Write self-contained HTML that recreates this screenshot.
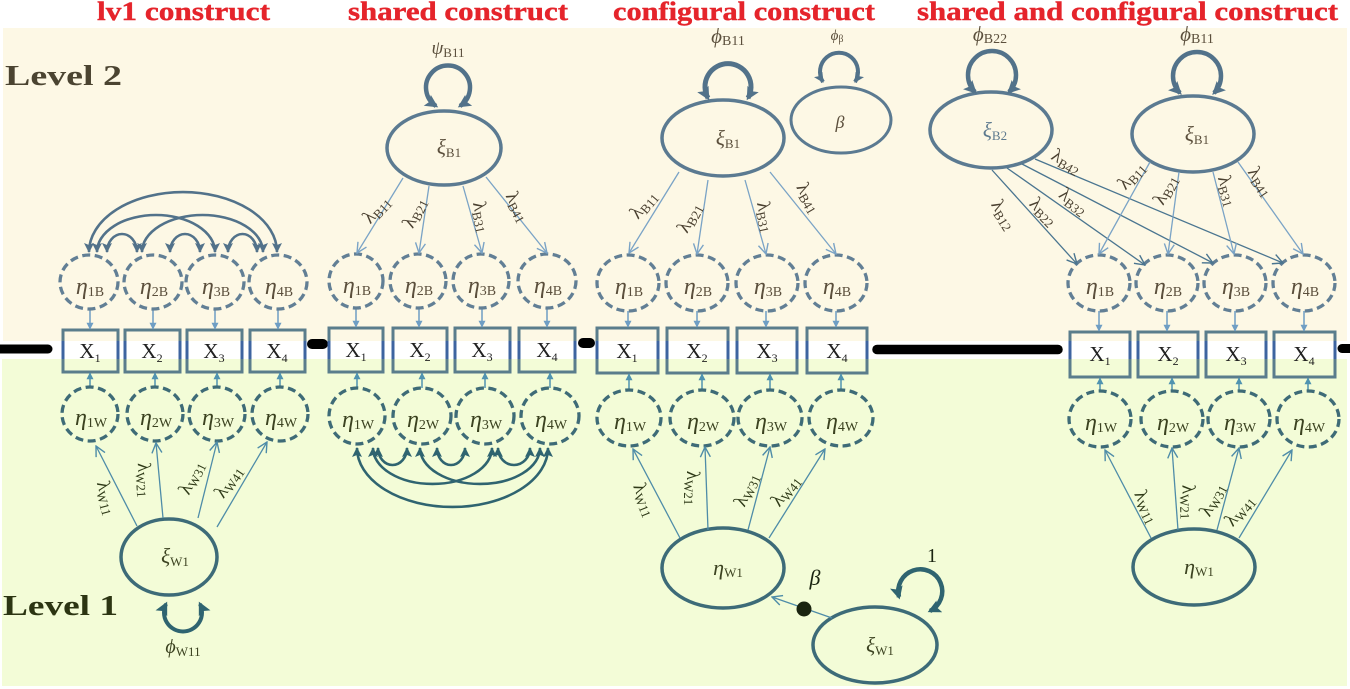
<!DOCTYPE html>
<html><head><meta charset="utf-8"><style>
html,body{margin:0;padding:0;background:#fff;}
svg{display:block;}
text{font-family:"Liberation Serif","DejaVu Serif",serif;}
</style></head><body>
<svg width="1350" height="689" viewBox="0 0 1350 689" xmlns="http://www.w3.org/2000/svg">
<defs>
<marker id="fB" viewBox="0 0 10 10" refX="9" refY="5" markerWidth="10" markerHeight="10" markerUnits="userSpaceOnUse" orient="auto-start-reverse"><path d="M0,0 L10,5 L0,10 L2,5 z" fill="#52728a"/></marker>
<marker id="fW" viewBox="0 0 10 10" refX="9" refY="5" markerWidth="10" markerHeight="10" markerUnits="userSpaceOnUse" orient="auto-start-reverse"><path d="M0,0 L10,5 L0,10 L2,5 z" fill="#2f6470"/></marker>
<marker id="lB" viewBox="0 0 10 10" refX="8" refY="5" markerWidth="13" markerHeight="13" markerUnits="userSpaceOnUse" orient="auto-start-reverse"><path d="M0,0 L10,5 L0,10 L2,5 z" fill="#52728a"/></marker>
<marker id="lW" viewBox="0 0 10 10" refX="8" refY="5" markerWidth="13" markerHeight="13" markerUnits="userSpaceOnUse" orient="auto-start-reverse"><path d="M0,0 L10,5 L0,10 L2,5 z" fill="#2f6470"/></marker>
<marker id="sB" viewBox="0 0 10 10" refX="9" refY="5" markerWidth="7" markerHeight="7" markerUnits="userSpaceOnUse" orient="auto"><path d="M0,0 L10,5 L0,10 z" fill="#6f9ec4"/></marker>
<marker id="sW" viewBox="0 0 10 10" refX="9" refY="5" markerWidth="7" markerHeight="7" markerUnits="userSpaceOnUse" orient="auto"><path d="M0,0 L10,5 L0,10 z" fill="#4f93b0"/></marker>
<marker id="oB" viewBox="0 0 12 12" refX="11" refY="6" markerWidth="12" markerHeight="12" markerUnits="userSpaceOnUse" orient="auto"><path d="M1,1 L11,6 L1,11" fill="none" stroke="#7aa3c6" stroke-width="1.4"/></marker>
<marker id="oW" viewBox="0 0 12 12" refX="11" refY="6" markerWidth="12" markerHeight="12" markerUnits="userSpaceOnUse" orient="auto"><path d="M1,1 L11,6 L1,11" fill="none" stroke="#4e8ca8" stroke-width="1.4"/></marker>
<marker id="oD" viewBox="0 0 12 12" refX="11" refY="6" markerWidth="12" markerHeight="12" markerUnits="userSpaceOnUse" orient="auto"><path d="M1,1 L11,6 L1,11" fill="none" stroke="#4a7590" stroke-width="1.4"/></marker>
</defs>

<!-- backgrounds -->
<rect x="3" y="28" width="1344" height="313" fill="#fdf8e5"/>
<rect x="2" y="359" width="1345" height="327" fill="#f3fcd7"/>

<!-- titles -->
<g font-weight="bold" fill="#e5242b" font-size="26" stroke="#e5242b" stroke-width="0.4">
<text x="97" y="20" textLength="173" lengthAdjust="spacingAndGlyphs">lv1 construct</text>
<text x="348" y="20" textLength="220" lengthAdjust="spacingAndGlyphs">shared construct</text>
<text x="613" y="20" textLength="262" lengthAdjust="spacingAndGlyphs">configural construct</text>
<text x="917" y="20" textLength="421" lengthAdjust="spacingAndGlyphs">shared and configural construct</text>
</g>
<text x="5" y="85" font-size="28" font-weight="bold" fill="#4b4431" textLength="117" lengthAdjust="spacingAndGlyphs">Level 2</text>
<text x="3" y="615" font-size="28" font-weight="bold" fill="#2c3512" textLength="115" lengthAdjust="spacingAndGlyphs">Level 1</text>

<!-- black separators -->
<g stroke="#000" stroke-linecap="round">
<line x1="-6" y1="349" x2="48" y2="349" stroke-width="9"/>
<line x1="312" y1="344" x2="323" y2="344" stroke-width="10"/>
<line x1="583" y1="343" x2="590" y2="343" stroke-width="10"/>
<line x1="877" y1="349.5" x2="1058" y2="349.5" stroke-width="9.5"/>
<line x1="1342" y1="348.5" x2="1362" y2="348.5" stroke-width="9"/>
</g>

<!-- boxes -->
<g fill="none" stroke="#5a7d8c" stroke-width="3">
<rect x="63" y="330" width="55" height="42"/><rect x="125" y="330" width="55" height="42"/><rect x="187" y="330" width="55" height="42"/><rect x="250" y="330" width="55" height="42"/>
<rect x="329" y="328" width="54" height="44"/><rect x="393" y="328" width="54" height="44"/><rect x="455" y="328" width="55" height="44"/><rect x="519" y="328" width="56" height="44"/>
<rect x="597" y="328" width="61" height="45"/><rect x="667" y="328" width="61" height="45"/><rect x="737" y="328" width="60" height="45"/><rect x="807" y="328" width="60" height="45"/>
<rect x="1070" y="332" width="60" height="45"/><rect x="1138" y="332" width="60" height="45"/><rect x="1206" y="332" width="60" height="45"/><rect x="1274" y="332" width="61" height="45"/>
</g>
<path stroke="#3e64a0" stroke-width="3" fill="none" d="M63,341V359M118,341V359M125,341V359M180,341V359M187,341V359M242,341V359M250,341V359M305,341V359M329,341V359M383,341V359M393,341V359M447,341V359M455,341V359M510,341V359M519,341V359M575,341V359M597,341V359M658,341V359M667,341V359M728,341V359M737,341V359M797,341V359M807,341V359M867,341V359M1070,341V359M1130,341V359M1138,341V359M1198,341V359M1206,341V359M1266,341V359M1274,341V359M1335,341V359"/>

<!-- X labels -->
<g font-size="21" fill="#222" text-anchor="middle">
<text x="90" y="358">X<tspan font-size="12" dy="4">1</tspan></text>
<text x="152" y="358">X<tspan font-size="12" dy="4">2</tspan></text>
<text x="214" y="358">X<tspan font-size="12" dy="4">3</tspan></text>
<text x="277" y="358">X<tspan font-size="12" dy="4">4</tspan></text>
<text x="356" y="357">X<tspan font-size="12" dy="4">1</tspan></text>
<text x="420" y="357">X<tspan font-size="12" dy="4">2</tspan></text>
<text x="482" y="357">X<tspan font-size="12" dy="4">3</tspan></text>
<text x="547" y="357">X<tspan font-size="12" dy="4">4</tspan></text>
<text x="627" y="358">X<tspan font-size="12" dy="4">1</tspan></text>
<text x="697" y="358">X<tspan font-size="12" dy="4">2</tspan></text>
<text x="767" y="358">X<tspan font-size="12" dy="4">3</tspan></text>
<text x="837" y="358">X<tspan font-size="12" dy="4">4</tspan></text>
<text x="1100" y="361">X<tspan font-size="12" dy="4">1</tspan></text>
<text x="1168" y="361">X<tspan font-size="12" dy="4">2</tspan></text>
<text x="1236" y="361">X<tspan font-size="12" dy="4">3</tspan></text>
<text x="1304" y="361">X<tspan font-size="12" dy="4">4</tspan></text>
</g>

<!-- short arrows eta -> X -->
<g stroke="#6f9ec4" stroke-width="1.5" marker-end="url(#sB)">
<line x1="90" y1="309" x2="90" y2="329"/><line x1="153" y1="309" x2="153" y2="329"/><line x1="215" y1="309" x2="215" y2="329"/><line x1="278" y1="309" x2="278" y2="329"/>
<line x1="356" y1="308" x2="356" y2="327"/><line x1="419" y1="308" x2="419" y2="327"/><line x1="482" y1="308" x2="482" y2="327"/><line x1="547" y1="308" x2="547" y2="327"/>
<line x1="628" y1="311" x2="628" y2="327"/><line x1="697" y1="311" x2="697" y2="327"/><line x1="766" y1="311" x2="766" y2="327"/><line x1="836" y1="311" x2="836" y2="327"/>
<line x1="1099" y1="311" x2="1099" y2="331"/><line x1="1167" y1="311" x2="1167" y2="331"/><line x1="1235" y1="311" x2="1235" y2="331"/><line x1="1304" y1="311" x2="1304" y2="331"/>
</g>
<g stroke="#4f93b0" stroke-width="1.5" marker-end="url(#sW)">
<line x1="90" y1="388" x2="90" y2="373"/><line x1="155" y1="388" x2="155" y2="373"/><line x1="217" y1="388" x2="217" y2="373"/><line x1="280" y1="388" x2="280" y2="373"/>
<line x1="357" y1="388" x2="357" y2="373"/><line x1="422" y1="388" x2="422" y2="373"/><line x1="485" y1="388" x2="485" y2="373"/><line x1="550" y1="388" x2="550" y2="373"/>
<line x1="629" y1="390" x2="629" y2="374"/><line x1="702" y1="390" x2="702" y2="374"/><line x1="770" y1="390" x2="770" y2="374"/><line x1="841" y1="390" x2="841" y2="374"/>
<line x1="1100" y1="391" x2="1100" y2="378"/><line x1="1172" y1="391" x2="1172" y2="378"/><line x1="1239" y1="391" x2="1239" y2="378"/><line x1="1308" y1="391" x2="1308" y2="378"/>
</g>

<!-- dashed eta_B circles -->
<g fill="none" stroke="#627f95" stroke-width="3.3" stroke-dasharray="8 4.5">
<ellipse cx="89" cy="282" rx="29" ry="27"/><ellipse cx="153" cy="282" rx="29" ry="27"/><ellipse cx="215" cy="282" rx="29" ry="27"/><ellipse cx="278" cy="282" rx="29" ry="27"/>
<ellipse cx="356" cy="281" rx="27" ry="27"/><ellipse cx="418" cy="281" rx="28" ry="27"/><ellipse cx="481" cy="281" rx="28" ry="27"/><ellipse cx="547" cy="281" rx="29" ry="27"/>
<ellipse cx="628" cy="283" rx="31" ry="28"/><ellipse cx="697" cy="283" rx="31" ry="28"/><ellipse cx="767" cy="283" rx="31" ry="28"/><ellipse cx="836" cy="283" rx="31" ry="28"/>
<ellipse cx="1099" cy="283" rx="31" ry="28"/><ellipse cx="1167" cy="283" rx="31" ry="28"/><ellipse cx="1235" cy="283" rx="31" ry="28"/><ellipse cx="1304" cy="283" rx="31" ry="28"/>
</g>
<!-- dashed eta_W circles -->
<g fill="none" stroke="#3e6b77" stroke-width="3.3" stroke-dasharray="8 4.5">
<ellipse cx="90" cy="414" rx="28" ry="27"/><ellipse cx="155" cy="414" rx="28" ry="27"/><ellipse cx="217" cy="414" rx="28" ry="27"/><ellipse cx="280" cy="414" rx="28" ry="27"/>
<ellipse cx="357" cy="416" rx="28" ry="28"/><ellipse cx="422" cy="416" rx="29" ry="28"/><ellipse cx="485" cy="416" rx="29" ry="28"/><ellipse cx="550" cy="416" rx="29" ry="28"/>
<ellipse cx="629" cy="418" rx="32" ry="28"/><ellipse cx="702" cy="418" rx="32" ry="28"/><ellipse cx="770" cy="418" rx="32" ry="28"/><ellipse cx="841" cy="418" rx="32" ry="28"/>
<ellipse cx="1100" cy="419" rx="31" ry="28"/><ellipse cx="1172" cy="419" rx="31" ry="28"/><ellipse cx="1239" cy="419" rx="31" ry="28"/><ellipse cx="1308" cy="419" rx="31" ry="28"/>
</g>

<!-- eta_B labels -->
<g text-anchor="middle" fill="#5b4f3c">
<text x="90" y="294"><tspan font-style="italic" font-size="24">η</tspan><tspan font-size="14" dy="2">1B</tspan></text>
<text x="154" y="294"><tspan font-style="italic" font-size="24">η</tspan><tspan font-size="14" dy="2">2B</tspan></text>
<text x="216" y="294"><tspan font-style="italic" font-size="24">η</tspan><tspan font-size="14" dy="2">3B</tspan></text>
<text x="279" y="294"><tspan font-style="italic" font-size="24">η</tspan><tspan font-size="14" dy="2">4B</tspan></text>
<text x="357" y="293"><tspan font-style="italic" font-size="24">η</tspan><tspan font-size="14" dy="2">1B</tspan></text>
<text x="419" y="293"><tspan font-style="italic" font-size="24">η</tspan><tspan font-size="14" dy="2">2B</tspan></text>
<text x="482" y="293"><tspan font-style="italic" font-size="24">η</tspan><tspan font-size="14" dy="2">3B</tspan></text>
<text x="548" y="293"><tspan font-style="italic" font-size="24">η</tspan><tspan font-size="14" dy="2">4B</tspan></text>
<text x="629" y="294"><tspan font-style="italic" font-size="24">η</tspan><tspan font-size="14" dy="2">1B</tspan></text>
<text x="698" y="294"><tspan font-style="italic" font-size="24">η</tspan><tspan font-size="14" dy="2">2B</tspan></text>
<text x="768" y="294"><tspan font-style="italic" font-size="24">η</tspan><tspan font-size="14" dy="2">3B</tspan></text>
<text x="837" y="294"><tspan font-style="italic" font-size="24">η</tspan><tspan font-size="14" dy="2">4B</tspan></text>
<text x="1100" y="294"><tspan font-style="italic" font-size="24">η</tspan><tspan font-size="14" dy="2">1B</tspan></text>
<text x="1168" y="294"><tspan font-style="italic" font-size="24">η</tspan><tspan font-size="14" dy="2">2B</tspan></text>
<text x="1236" y="294"><tspan font-style="italic" font-size="24">η</tspan><tspan font-size="14" dy="2">3B</tspan></text>
<text x="1305" y="294"><tspan font-style="italic" font-size="24">η</tspan><tspan font-size="14" dy="2">4B</tspan></text>
</g>
<!-- eta_W labels -->
<g text-anchor="middle" fill="#3b4220">
<text x="91" y="425"><tspan font-style="italic" font-size="24">η</tspan><tspan font-size="14" dy="2">1W</tspan></text>
<text x="156" y="425"><tspan font-style="italic" font-size="24">η</tspan><tspan font-size="14" dy="2">2W</tspan></text>
<text x="218" y="425"><tspan font-style="italic" font-size="24">η</tspan><tspan font-size="14" dy="2">3W</tspan></text>
<text x="281" y="425"><tspan font-style="italic" font-size="24">η</tspan><tspan font-size="14" dy="2">4W</tspan></text>
<text x="358" y="427"><tspan font-style="italic" font-size="24">η</tspan><tspan font-size="14" dy="2">1W</tspan></text>
<text x="423" y="427"><tspan font-style="italic" font-size="24">η</tspan><tspan font-size="14" dy="2">2W</tspan></text>
<text x="486" y="427"><tspan font-style="italic" font-size="24">η</tspan><tspan font-size="14" dy="2">3W</tspan></text>
<text x="551" y="427"><tspan font-style="italic" font-size="24">η</tspan><tspan font-size="14" dy="2">4W</tspan></text>
<text x="630" y="429"><tspan font-style="italic" font-size="24">η</tspan><tspan font-size="14" dy="2">1W</tspan></text>
<text x="703" y="429"><tspan font-style="italic" font-size="24">η</tspan><tspan font-size="14" dy="2">2W</tspan></text>
<text x="771" y="429"><tspan font-style="italic" font-size="24">η</tspan><tspan font-size="14" dy="2">3W</tspan></text>
<text x="842" y="429"><tspan font-style="italic" font-size="24">η</tspan><tspan font-size="14" dy="2">4W</tspan></text>
<text x="1101" y="430"><tspan font-style="italic" font-size="24">η</tspan><tspan font-size="14" dy="2">1W</tspan></text>
<text x="1173" y="430"><tspan font-style="italic" font-size="24">η</tspan><tspan font-size="14" dy="2">2W</tspan></text>
<text x="1240" y="430"><tspan font-style="italic" font-size="24">η</tspan><tspan font-size="14" dy="2">3W</tspan></text>
<text x="1309" y="430"><tspan font-style="italic" font-size="24">η</tspan><tspan font-size="14" dy="2">4W</tspan></text>
</g>

<!-- ===== Section 1: lv1 construct ===== -->
<g fill="none" stroke="#52728a" stroke-width="2.6" marker-start="url(#fB)" marker-end="url(#fB)">
<path d="M89,252 A94,60 0 0 1 277,252"/>
<path d="M97,252 A59,37 0 0 1 215,252"/>
<path d="M142,252 A60.5,37 0 0 1 263,252"/>
<path d="M107,252 A15,18 0 0 1 137,252"/>
<path d="M170,252 A15,18 0 0 1 200,252"/>
<path d="M228,252 A14.5,18 0 0 1 257,252"/>
</g>
<ellipse cx="169" cy="557" rx="48" ry="38" fill="none" stroke="#3d6b78" stroke-width="3.5"/>
<text x="175" y="563" text-anchor="middle" fill="#3b4220"><tspan font-style="italic" font-size="21">ξ</tspan><tspan font-size="13" dy="3">W1</tspan></text>
<g stroke="#4e8ca8" stroke-width="1.3" marker-end="url(#oW)">
<line x1="137" y1="526" x2="96" y2="446"/>
<line x1="163" y1="518" x2="156" y2="443"/>
<line x1="198" y1="518" x2="217" y2="442"/>
<line x1="217" y1="527" x2="267" y2="442"/>
</g>
<path d="M166,604 A19,19 0 1 0 200,604" fill="none" stroke="#2f6470" stroke-width="4" marker-start="url(#lW)" marker-end="url(#lW)"/>
<text x="183" y="653" text-anchor="middle" fill="#3b4220"><tspan font-style="italic" font-size="20">ϕ</tspan><tspan font-size="13" dy="3">W11</tspan></text>
<g fill="#2f3a18" text-anchor="middle">
<text transform="translate(106,498) rotate(75)" y="5"><tspan font-size="19">λ</tspan><tspan font-size="13" dy="3">W11</tspan></text>
<text transform="translate(144,480) rotate(86)" y="5"><tspan font-size="19">λ</tspan><tspan font-size="13" dy="3">W21</tspan></text>
<text transform="translate(192,478) rotate(-64)" y="5"><tspan font-size="19">λ</tspan><tspan font-size="13" dy="3">W31</tspan></text>
<text transform="translate(229,482) rotate(-56)" y="5"><tspan font-size="19">λ</tspan><tspan font-size="13" dy="3">W41</tspan></text>
</g>

<!-- ===== Section 2: shared construct ===== -->
<ellipse cx="444" cy="148" rx="57" ry="37" fill="none" stroke="#5b7a91" stroke-width="3.5"/>
<text x="449" y="154" text-anchor="middle" fill="#5b4f3c"><tspan font-style="italic" font-size="21">ξ</tspan><tspan font-size="13" dy="3">B1</tspan></text>
<path d="M436,106 A22,22 0 1 1 460,106" fill="none" stroke="#52728a" stroke-width="4.5" marker-start="url(#lB)" marker-end="url(#lB)"/>
<text x="448" y="54" text-anchor="middle" fill="#5b4f3c"><tspan font-style="italic" font-size="19">ψ</tspan><tspan font-size="13" dy="3">B11</tspan></text>
<g stroke="#7aa3c6" stroke-width="1.3" marker-end="url(#oB)">
<line x1="403" y1="178" x2="357" y2="253"/>
<line x1="429" y1="186" x2="419" y2="253"/>
<line x1="463" y1="186" x2="482" y2="253"/>
<line x1="486" y1="177" x2="547" y2="253"/>
</g>
<g fill="#4a4030" text-anchor="middle">
<text transform="translate(377,210) rotate(-47)" y="5"><tspan font-size="19">λ</tspan><tspan font-size="13" dy="3">B11</tspan></text>
<text transform="translate(415,213) rotate(-64)" y="5"><tspan font-size="19">λ</tspan><tspan font-size="13" dy="3">B21</tspan></text>
<text transform="translate(481,217) rotate(78)" y="5"><tspan font-size="19">λ</tspan><tspan font-size="13" dy="3">B31</tspan></text>
<text transform="translate(517,207) rotate(62)" y="5"><tspan font-size="19">λ</tspan><tspan font-size="13" dy="3">B41</tspan></text>
</g>
<g fill="none" stroke="#2f6470" stroke-width="2.6" marker-start="url(#fW)" marker-end="url(#fW)">
<path d="M357,448 A95.5,59 0 0 0 548,448"/>
<path d="M373,448 A59.5,36 0 0 0 492,448"/>
<path d="M420,448 A60,36 0 0 0 540,448"/>
<path d="M378,448 A14.5,17 0 0 0 407,448"/>
<path d="M437,448 A14,17 0 0 0 465,448"/>
<path d="M498,448 A16,17 0 0 0 530,448"/>
</g>

<!-- ===== Section 3: configural construct ===== -->
<ellipse cx="723" cy="138" rx="61" ry="38" fill="none" stroke="#5b7a91" stroke-width="3.5"/>
<text x="728" y="145" text-anchor="middle" fill="#5b4f3c"><tspan font-style="italic" font-size="21">ξ</tspan><tspan font-size="13" dy="3">B1</tspan></text>
<path d="M708,98 A23,23 0 1 1 748,98" fill="none" stroke="#52728a" stroke-width="5" marker-start="url(#lB)" marker-end="url(#lB)"/>
<text x="728" y="43" text-anchor="middle" fill="#5b4f3c"><tspan font-style="italic" font-size="21">ϕ</tspan><tspan font-size="14" dy="2">B11</tspan></text>
<ellipse cx="841" cy="120" rx="50" ry="33" fill="none" stroke="#5b7a91" stroke-width="3"/>
<text x="840" y="128" text-anchor="middle" font-style="italic" font-size="18" fill="#5b4f3c">β</text>
<path d="M823,82 A19,19 0 1 1 855,82" fill="none" stroke="#52728a" stroke-width="4" marker-start="url(#fB)" marker-end="url(#fB)"/>
<text x="837" y="40" text-anchor="middle" fill="#5b4f3c"><tspan font-style="italic" font-size="15">ϕ</tspan><tspan font-size="10" dy="2">β</tspan></text>
<g stroke="#7aa3c6" stroke-width="1.3" marker-end="url(#oB)">
<line x1="679" y1="172" x2="629" y2="253"/>
<line x1="708" y1="180" x2="697" y2="254"/>
<line x1="745" y1="180" x2="766" y2="254"/>
<line x1="770" y1="172" x2="836" y2="254"/>
</g>
<g fill="#4a4030" text-anchor="middle">
<text transform="translate(644,205) rotate(-50)" y="5"><tspan font-size="19">λ</tspan><tspan font-size="13" dy="3">B11</tspan></text>
<text transform="translate(690,218) rotate(-62)" y="5"><tspan font-size="19">λ</tspan><tspan font-size="13" dy="3">B21</tspan></text>
<text transform="translate(765,217) rotate(78)" y="5"><tspan font-size="19">λ</tspan><tspan font-size="13" dy="3">B31</tspan></text>
<text transform="translate(808,198) rotate(60)" y="5"><tspan font-size="19">λ</tspan><tspan font-size="13" dy="3">B41</tspan></text>
</g>
<ellipse cx="723" cy="568" rx="61" ry="40" fill="none" stroke="#3d6b78" stroke-width="3.5"/>
<text x="728" y="575" text-anchor="middle" fill="#3b4220"><tspan font-style="italic" font-size="22">η</tspan><tspan font-size="13" dy="2">W1</tspan></text>
<g stroke="#4e8ca8" stroke-width="1.3" marker-end="url(#oW)">
<line x1="680" y1="538" x2="633" y2="449"/>
<line x1="708" y1="530" x2="705" y2="447"/>
<line x1="748" y1="530" x2="770" y2="447"/>
<line x1="769" y1="538" x2="825" y2="449"/>
</g>
<g fill="#2f3a18" text-anchor="middle">
<text transform="translate(644,500) rotate(68)" y="5"><tspan font-size="19">λ</tspan><tspan font-size="13" dy="3">W11</tspan></text>
<text transform="translate(692,488) rotate(90)" y="5"><tspan font-size="19">λ</tspan><tspan font-size="13" dy="3">W21</tspan></text>
<text transform="translate(747,490) rotate(-66)" y="5"><tspan font-size="19">λ</tspan><tspan font-size="13" dy="3">W31</tspan></text>
<text transform="translate(786,491) rotate(-52)" y="5"><tspan font-size="19">λ</tspan><tspan font-size="13" dy="3">W41</tspan></text>
</g>
<ellipse cx="875" cy="645" rx="62" ry="38" fill="none" stroke="#3d6b78" stroke-width="3.5"/>
<text x="880" y="652" text-anchor="middle" fill="#3b4220"><tspan font-style="italic" font-size="21">ξ</tspan><tspan font-size="13" dy="3">W1</tspan></text>
<line x1="832" y1="618" x2="772" y2="597" stroke="#4e8ca8" stroke-width="1.3" marker-end="url(#oW)"/>
<circle cx="804" cy="609" r="7.5" fill="#1a2410"/>
<text x="815" y="585" text-anchor="middle" font-style="italic" font-size="22" fill="#1a2410">β</text>
<path d="M899,597 A22,22 0 1 1 930,611" fill="none" stroke="#2f6470" stroke-width="4.5" marker-start="url(#lW)" marker-end="url(#lW)"/>
<text x="932" y="562" text-anchor="middle" font-size="20" fill="#1a2410">1</text>

<!-- ===== Section 4: shared and configural ===== -->
<ellipse cx="991" cy="130" rx="61" ry="38" fill="none" stroke="#5b7a91" stroke-width="3.5"/>
<text x="995" y="137" text-anchor="middle" fill="#5d7a8e"><tspan font-style="italic" font-size="21">ξ</tspan><tspan font-size="13" dy="3">B2</tspan></text>
<path d="M975,92 A24,24 0 1 1 1009,92" fill="none" stroke="#52728a" stroke-width="4.5" marker-start="url(#lB)" marker-end="url(#lB)"/>
<text x="990" y="41" text-anchor="middle" fill="#5b4f3c"><tspan font-style="italic" font-size="21">ϕ</tspan><tspan font-size="14" dy="2">B22</tspan></text>
<ellipse cx="1193" cy="134" rx="61" ry="38" fill="none" stroke="#5b7a91" stroke-width="3.5"/>
<text x="1197" y="141" text-anchor="middle" fill="#5b4f3c"><tspan font-style="italic" font-size="21">ξ</tspan><tspan font-size="13" dy="3">B1</tspan></text>
<path d="M1180,93 A24,24 0 1 1 1214,93" fill="none" stroke="#52728a" stroke-width="4.5" marker-start="url(#lB)" marker-end="url(#lB)"/>
<text x="1197" y="41" text-anchor="middle" fill="#5b4f3c"><tspan font-style="italic" font-size="21">ϕ</tspan><tspan font-size="14" dy="2">B11</tspan></text>
<g stroke="#4a7590" stroke-width="1.3" marker-end="url(#oD)">
<line x1="992" y1="170" x2="1077" y2="264"/>
<line x1="1007" y1="168" x2="1145" y2="265"/>
<line x1="1022" y1="164" x2="1213" y2="263"/>
<line x1="1035" y1="159" x2="1283" y2="263"/>
</g>
<g stroke="#7aa3c6" stroke-width="1.3" marker-end="url(#oB)">
<line x1="1150" y1="162" x2="1099" y2="254"/>
<line x1="1179" y1="172" x2="1168" y2="254"/>
<line x1="1213" y1="172" x2="1234" y2="254"/>
<line x1="1238" y1="162" x2="1303" y2="254"/>
</g>
<g fill="#4a4030" text-anchor="middle">
<text transform="translate(1003,215) rotate(58)" y="5"><tspan font-size="19">λ</tspan><tspan font-size="13" dy="3">B12</tspan></text>
<text transform="translate(1043,212) rotate(45)" y="5"><tspan font-size="19">λ</tspan><tspan font-size="13" dy="3">B22</tspan></text>
<text transform="translate(1073,202) rotate(38)" y="5"><tspan font-size="19">λ</tspan><tspan font-size="13" dy="3">B32</tspan></text>
<text transform="translate(1066,162) rotate(30)" y="5"><tspan font-size="19">λ</tspan><tspan font-size="13" dy="3">B42</tspan></text>
<text transform="translate(1132,176) rotate(-48)" y="5"><tspan font-size="19">λ</tspan><tspan font-size="13" dy="3">B11</tspan></text>
<text transform="translate(1166,190) rotate(-62)" y="5"><tspan font-size="19">λ</tspan><tspan font-size="13" dy="3">B21</tspan></text>
<text transform="translate(1227,191) rotate(73)" y="5"><tspan font-size="19">λ</tspan><tspan font-size="13" dy="3">B31</tspan></text>
<text transform="translate(1260,182) rotate(56)" y="5"><tspan font-size="19">λ</tspan><tspan font-size="13" dy="3">B41</tspan></text>
</g>
<ellipse cx="1194" cy="567" rx="61" ry="38" fill="none" stroke="#3d6b78" stroke-width="3.5"/>
<text x="1199" y="574" text-anchor="middle" fill="#3b4220"><tspan font-style="italic" font-size="22">η</tspan><tspan font-size="13" dy="2">W1</tspan></text>
<g stroke="#4e8ca8" stroke-width="1.3" marker-end="url(#oW)">
<line x1="1151" y1="538" x2="1105" y2="450"/>
<line x1="1178" y1="530" x2="1172" y2="448"/>
<line x1="1217" y1="530" x2="1239" y2="448"/>
<line x1="1239" y1="538" x2="1292" y2="450"/>
</g>
<g fill="#2f3a18" text-anchor="middle">
<text transform="translate(1146,507) rotate(64)" y="5"><tspan font-size="19">λ</tspan><tspan font-size="13" dy="3">W11</tspan></text>
<text transform="translate(1188,502) rotate(88)" y="5"><tspan font-size="19">λ</tspan><tspan font-size="13" dy="3">W21</tspan></text>
<text transform="translate(1213,500) rotate(-63)" y="5"><tspan font-size="19">λ</tspan><tspan font-size="13" dy="3">W31</tspan></text>
<text transform="translate(1240,511) rotate(-50)" y="5"><tspan font-size="19">λ</tspan><tspan font-size="13" dy="3">W41</tspan></text>
</g>
</svg>
</body></html>
